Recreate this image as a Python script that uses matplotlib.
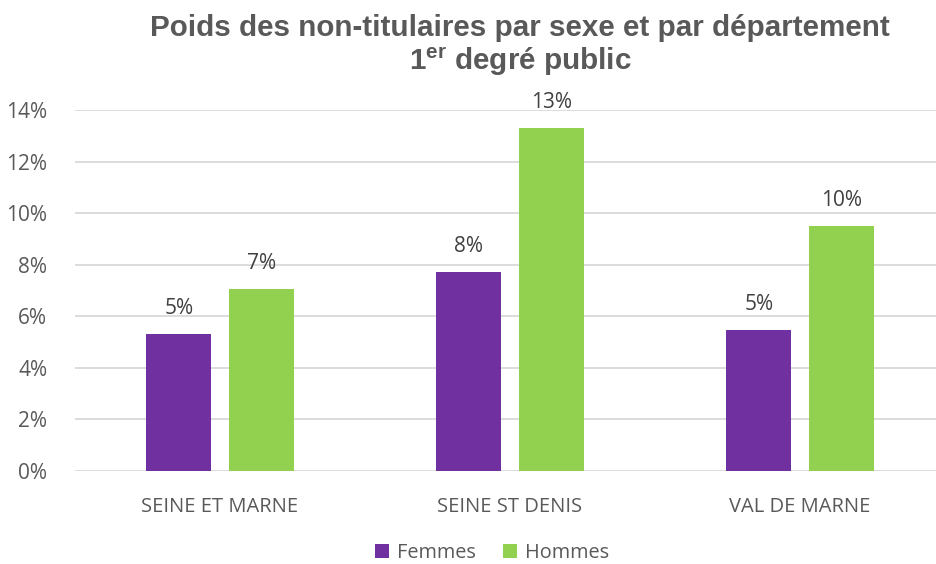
import matplotlib
matplotlib.use('Agg')
import matplotlib.pyplot as plt
import numpy as np

# data
departements = ['SEINE ET MARNE', 'SEINE ST DENIS', 'VAL DE MARNE']
femmes = [5.3, 7.7, 5.45]
hommes = [7.05, 13.3, 9.5]
series_names = ['Femmes', 'Hommes']
colors = ['#7030A0', '#92D050']
yticks = [0, 2, 4, 6, 8, 10, 12, 14]

plt.rcParams['mathtext.default'] = 'regular'
gray = '#595959'

fig = plt.figure(figsize=(9.36, 5.64), dpi=100)
ax = fig.add_axes([75 / 936, 1 - 471 / 564, 870 / 936, 361 / 564])

x = np.arange(len(departements))
width = 0.224
offset = 0.142

for vals, name, col, off in zip([femmes, hommes], series_names, colors, [-offset, offset]):
    bars = ax.bar(x + off, vals, width, color=col, label=name, zorder=3)
    for b, v in zip(bars, vals):
        ax.annotate(f'{v:.0f}%', (b.get_x() + b.get_width() / 2, v),
                    xytext=(0, 11), textcoords='offset points',
                    ha='center', va='bottom', fontsize=15,
                    family='Open Sans', color='#404040')

ax.set_xlim(-0.5, 2.5)
ax.set_ylim(0, 14)
ax.set_yticks(yticks)
ax.set_yticklabels([f'{t}%' for t in yticks], family='Open Sans', fontsize=15, color=gray)
ax.set_xticks(x)
ax.set_xticklabels(departements, family='Open Sans', fontsize=14.5, color=gray)
ax.tick_params(axis='both', length=0)
ax.tick_params(axis='x', pad=19)
ax.tick_params(axis='y', pad=20)
ax.grid(axis='y', color='#D9D9D9', linewidth=1.3, zorder=0)
for s in ax.spines.values():
    s.set_visible(False)

fig.text(520 / 936, 1 - 28 / 564, 'Poids des non-titulaires par sexe et par département',
         ha='center', va='center', fontsize=21.3, fontweight='bold',
         family='Liberation Sans', color=gray)
fig.text(520 / 936, 1 - 62 / 564, '1$^{er}$ degré public',
         ha='center', va='center', fontsize=21.3, fontweight='bold',
         family='Liberation Sans', color=gray)

fig.legend(loc='center', bbox_to_anchor=(492 / 936, 1 - 553 / 564), ncol=2,
           frameon=False, prop={'family': 'Open Sans', 'size': 14.3},
           labelcolor=gray, handlelength=0.7, handleheight=0.7,
           handletextpad=0.4, columnspacing=1.4)

fig.savefig('out.png', dpi=100)
